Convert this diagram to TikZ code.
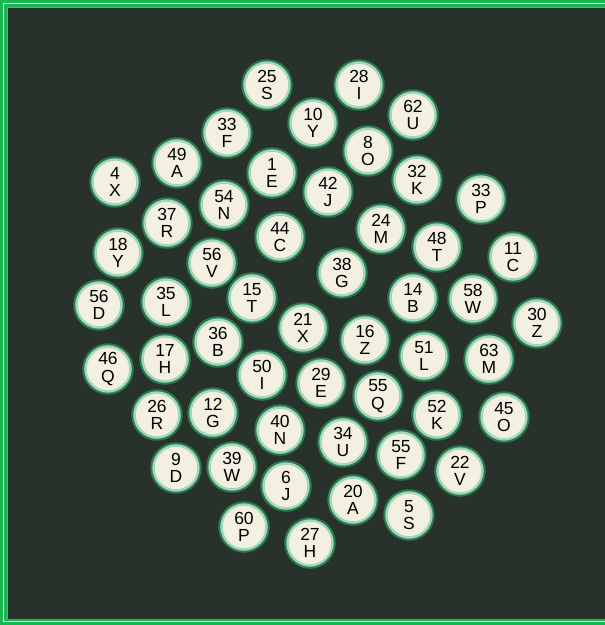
\documentclass[tikz,border=0pt]{standalone}
\usepackage{fontspec}
\setmainfont{Liberation Sans}
\definecolor{frameg}{HTML}{1CB553}
\definecolor{bgdark}{HTML}{28312A}
\definecolor{cream}{HTML}{F4F0E1}
\definecolor{mint}{HTML}{A2D8BA}
\definecolor{ringdark}{HTML}{2A7A52}
\definecolor{inner}{HTML}{8A968C}
\begin{document}
\begin{tikzpicture}[x=1pt,y=-1pt,
  ball/.style={circle, minimum size=49.5pt, inner sep=0pt, fill=cream,
    draw=ringdark, line width=2pt, align=center,
    font=\fontsize{17.5}{17.5}\selectfont,
    path picture={\draw[mint, line width=3.5pt] (path picture bounding box.center) circle (23pt);}}]
\useasboundingbox (0,0) rectangle (605,625);
% frame
\fill[frameg] (0,0) rectangle (605,625);
\draw[white!85!frameg, line width=0.7pt] (3,3) rectangle (620,621.5);
\fill[bgdark] (7,7) rectangle (605,619);
\draw[inner, line width=0.6pt] (7.3,619) -- (7.3,7.3) -- (605,7.3);
% balls
\foreach \x/\y/\n/\l [count=\i] in {
267/85/25/S, 359/85/28/I, 313/123/10/Y, 413/115/62/U, 227/133/33/F,
368/151/8/O, 177/163/49/A, 272/173/1/E, 328/192/42/J, 417/180/32/K,
115/182/4/X, 224/205/54/N, 481/199/33/P, 167/223/37/R, 280/237/44/C,
381/229/24/M, 437/247/48/T, 513/257/11/C, 118/253/18/Y, 212/263/56/V,
342/273/38/G, 99/305/56/D, 166/302/35/L, 252/298/15/T, 413/298/14/B,
473/299/58/W, 537/323/30/Z, 303/328/21/X, 365/340/16/Z, 218/342/36/B,
424/356/51/L, 165/359/17/H, 108/369/46/Q, 489/359/63/M, 262/375/50/I,
321/383/29/E, 378/396/55/Q, 437/415/52/K, 504/417/45/O, 157/415/26/R,
213/413/12/G, 280/430/40/N, 343/442/34/U, 401/455/55/F, 460/471/22/V,
176/468/9/D, 232/467/39/W, 286/486/6/J, 353/500/20/A, 409/515/5/S,
244/527/60/P, 310/543/27/H}
  \node[ball] (b\i) at (\x,\y) {\n\\\l};
\end{tikzpicture}
\end{document}
